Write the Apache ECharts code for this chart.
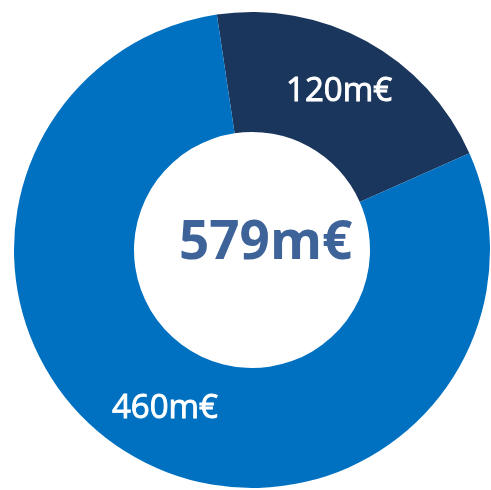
<!DOCTYPE html>
<html>
<head>
<meta charset="utf-8">
<script src="https://cdn.jsdelivr.net/npm/echarts@6/dist/echarts.min.js"></script>
<style>
  html, body { margin: 0; padding: 0; background: #fff; }
  #chart { width: 491px; height: 490px; }
</style>
</head>
<body>
<div id="chart"></div>
<script>
var segmentNames = ['A', 'B'];
var segmentValues = [120, 460];
var segmentColors = ['#1a365d', '#0070c0'];
var totalLabel = '579m€';

var chart = echarts.init(document.getElementById('chart'));

var data = segmentValues.map(function (v, i) {
  return { name: segmentNames[i], value: v, itemStyle: { color: segmentColors[i] } };
});

chart.setOption({
  animation: false,
  graphic: [{
    type: 'text',
    left: 179,
    top: 217,
    style: {
      text: totalLabel,
      fill: '#3d6399',
      font: 'bold 53px "Open Sans"'
    }
  }],
  series: [{
    type: 'pie',
    center: [252, 250],
    radius: [118, 238],
    startAngle: 98.5,
    clockwise: true,
    silent: true,
    label: {
      show: true,
      position: 'inside',
      formatter: function (p) { return p.value + 'm€'; },
      color: '#fff',
      fontFamily: 'Open Sans',
      fontSize: 33,
      // regular is a touch thin next to the original, fatten it a little
      textBorderColor: '#fff',
      textBorderWidth: 0.9
    },
    labelLine: { show: false },
    data: data
  }]
});
</script>
</body>
</html>
